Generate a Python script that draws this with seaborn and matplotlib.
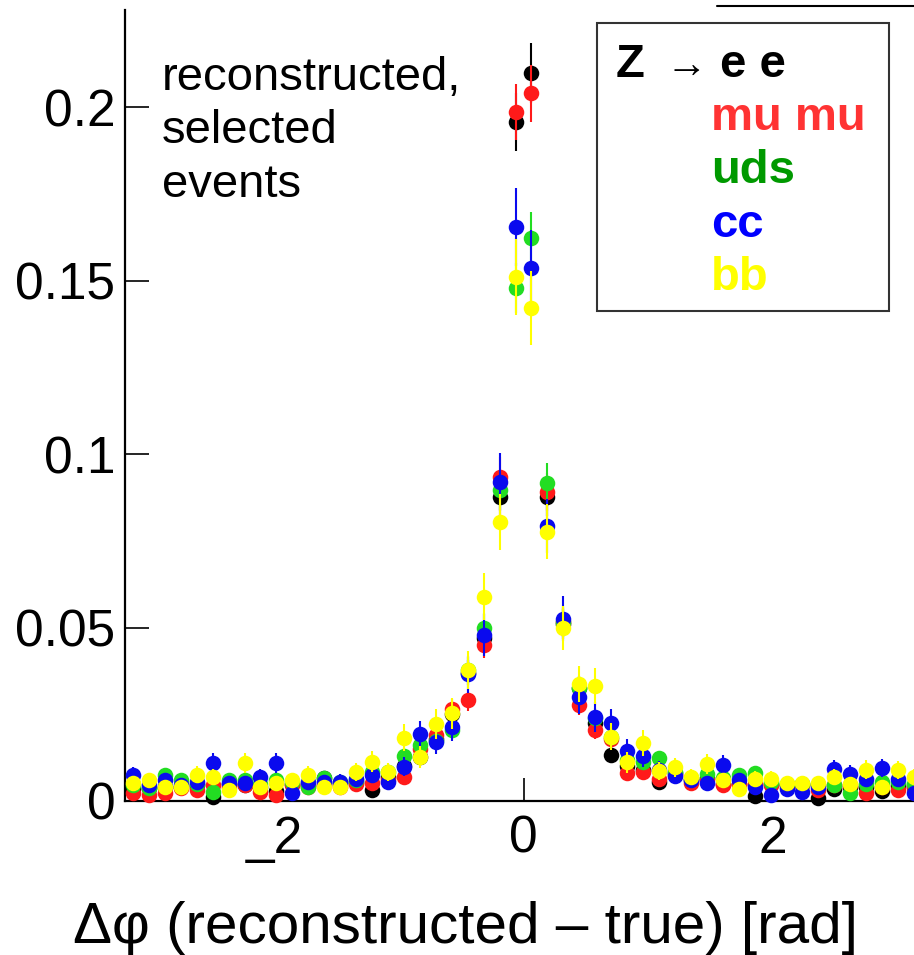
import numpy as np
import pandas as pd
import matplotlib
matplotlib.use("Agg")
import matplotlib.pyplot as plt
from matplotlib.lines import Line2D
from matplotlib.patches import Rectangle
import seaborn as sns

sns.set_style("ticks")
plt.rcParams["font.family"] = ["Liberation Sans", "DejaVu Sans"]
plt.rcParams["text.color"] = "black"
plt.rcParams["axes.labelcolor"] = "black"
plt.rcParams["xtick.color"] = "black"
plt.rcParams["ytick.color"] = "black"

# Binning of the azimuthal-angle residual
n_bins = 50
phi_lo, phi_hi = -3.2, 3.2

# Normalised fraction of selected events per bin, one list per Z decay channel
frac_ee = [0.0035, 0.0037, 0.0040, 0.0040, 0.0045, 0.0012, 0.0050, 0.0045, 0.0040, 0.0030,
           0.0050, 0.0045, 0.0066, 0.0050, 0.0055, 0.0032, 0.0070, 0.0100, 0.0126, 0.0180,
           0.0250, 0.0370, 0.0470, 0.0876, 0.1958, 0.2098, 0.0877, 0.0510, 0.0326, 0.0225,
           0.0133, 0.0100, 0.0090, 0.0056, 0.0080, 0.0060, 0.0065, 0.0050, 0.0050, 0.0014,
           0.0050, 0.0045, 0.0050, 0.0009, 0.0034, 0.0040, 0.0040, 0.0030, 0.0045, 0.0040]
frac_mumu = [0.0023, 0.0017, 0.0023, 0.0038, 0.0032, 0.0046, 0.0040, 0.0046, 0.0027, 0.0017,
             0.0045, 0.0040, 0.0045, 0.0040, 0.0050, 0.0052, 0.0060, 0.0069, 0.0150, 0.0190,
             0.0265, 0.0291, 0.0450, 0.0935, 0.1986, 0.2040, 0.0890, 0.0515, 0.0277, 0.0205,
             0.0180, 0.0080, 0.0085, 0.0062, 0.0075, 0.0051, 0.0060, 0.0046, 0.0045, 0.0050,
             0.0045, 0.0040, 0.0045, 0.0032, 0.0045, 0.0045, 0.0023, 0.0040, 0.0032, 0.0040]
frac_uds = [0.0045, 0.0037, 0.0075, 0.0060, 0.0050, 0.0027, 0.0060, 0.0060, 0.0050, 0.0060,
            0.0055, 0.0041, 0.0066, 0.0056, 0.0060, 0.0085, 0.0084, 0.0130, 0.0160, 0.0172,
            0.0205, 0.0377, 0.0500, 0.0896, 0.1478, 0.1622, 0.0916, 0.0516, 0.0326, 0.0240,
            0.0185, 0.0118, 0.0111, 0.0124, 0.0085, 0.0065, 0.0077, 0.0065, 0.0075, 0.0080,
            0.0055, 0.0048, 0.0050, 0.0045, 0.0046, 0.0023, 0.0050, 0.0054, 0.0055, 0.0050]
frac_cc = [0.0075, 0.0045, 0.0060, 0.0045, 0.0056, 0.0109, 0.0052, 0.0053, 0.0070, 0.0109,
           0.0023, 0.0056, 0.0055, 0.0056, 0.0062, 0.0075, 0.0056, 0.0099, 0.0192, 0.0171,
           0.0214, 0.0365, 0.0478, 0.0920, 0.1654, 0.1536, 0.0793, 0.0526, 0.0300, 0.0242,
           0.0225, 0.0145, 0.0130, 0.0090, 0.0072, 0.0060, 0.0052, 0.0104, 0.0060, 0.0039,
           0.0017, 0.0035, 0.0025, 0.0040, 0.0092, 0.0078, 0.0063, 0.0095, 0.0063, 0.0022]
frac_bb = [0.0051, 0.0060, 0.0041, 0.0041, 0.0075, 0.0070, 0.0032, 0.0109, 0.0041, 0.0051,
           0.0060, 0.0075, 0.0041, 0.0041, 0.0084, 0.0113, 0.0084, 0.0183, 0.0126, 0.0222,
           0.0253, 0.0377, 0.0589, 0.0804, 0.1510, 0.1420, 0.0776, 0.0498, 0.0337, 0.0331,
           0.0185, 0.0111, 0.0167, 0.0087, 0.0097, 0.0070, 0.0106, 0.0060, 0.0035, 0.0063,
           0.0063, 0.0052, 0.0052, 0.0052, 0.0070, 0.0050, 0.0090, 0.0040, 0.0089, 0.0070]

channels = ["e e", "mu mu", "uds", "cc", "bb"]
fractions = [frac_ee, frac_mumu, frac_uds, frac_cc, frac_bb]
# Selected events per sample (sets the statistical error of each normalised bin)
n_events = [2800, 3000, 2800, 1300, 1250]

marker_colors = ["#000000", "#ff1a1a", "#22dd22", "#0a0aee", "#ffff00"]
text_colors = ["#000000", "#ff3333", "#009900", "#0000ff", "#ffff00"]

edges = np.linspace(phi_lo, phi_hi, n_bins + 1)
centers = 0.5 * (edges[:-1] + edges[1:])

rows = []
for name, vals, n in zip(channels, fractions, n_events):
    vals = np.asarray(vals)
    rows.append(pd.DataFrame({
        "dphi": centers,
        "frac": vals,
        "err": np.sqrt(vals / n),
        "channel": name,
    }))
df = pd.concat(rows, ignore_index=True)

W, H = 914, 955
fig = plt.figure(figsize=(W / 100, H / 100), dpi=100)
ax_left, ax_right, ax_top, ax_bottom = 125, 922, 10, 801
ax = fig.add_axes([ax_left / W, 1 - ax_bottom / H,
                   (ax_right - ax_left) / W, (ax_bottom - ax_top) / H])

for i, (name, col) in enumerate(zip(channels, marker_colors)):
    sub = df[df["channel"] == name]
    ax.errorbar(sub["dphi"], sub["frac"], yerr=sub["err"], fmt="none",
                ecolor=col, elinewidth=1.5, capsize=0, zorder=2 + 2 * i, clip_on=False)
    sns.scatterplot(data=sub, x="dphi", y="frac", color=col, s=125, linewidth=0,
                    ax=ax, zorder=3 + 2 * i, clip_on=False, legend=False)

ax.set_xlim(phi_lo, phi_hi)
ax.set_ylim(0, 0.228)

sns.despine(ax=ax, top=True, right=True)
for side in ("left", "bottom"):
    ax.spines[side].set_linewidth(1.6)
    ax.spines[side].set_color("black")

ax.set_yticks([0, 0.05, 0.1, 0.15, 0.2])
ax.set_yticklabels(["0", "0.05", "0.1", "0.15", "0.2"])
ax.set_xticks([-2, 0, 2])
ax.set_xticklabels(["_2", "0", "2"])
ax.tick_params(axis="y", direction="in", length=17, width=1.2, pad=7, labelsize=37)
ax.tick_params(axis="x", direction="in", length=16.5, width=1.2, pad=10, labelsize=37)

ax.set_ylabel("")
ax.set_xlabel("\u0394\u03c6 (reconstructed \u2013 true) [rad]", fontsize=42)
ax.xaxis.set_label_coords((465 - ax_left) / (ax_right - ax_left),
                          -(943 - ax_bottom) / (ax_bottom - ax_top))
ax.xaxis.label.set_va("baseline")


def fx(px):
    return px / W


def fy(py):
    return 1 - py / H


# Annotation
for line, base in zip(["reconstructed,", "selected", "events"], [90, 143, 197]):
    fig.text(fx(162), fy(base), line, fontsize=34, va="baseline", ha="left")

# Channel box
fig.add_artist(Rectangle((fx(597), fy(311)), (889 - 597) / W, (311 - 23) / H,
                         transform=fig.transFigure, facecolor="white",
                         edgecolor="#333333", linewidth=1.5, zorder=20))
fig.text(fx(616), fy(77), "Z", fontsize=34, fontweight="bold", va="baseline", zorder=21)
fig.text(fx(666), fy(77), "\u2192", fontsize=30, va="baseline", zorder=21)
fig.text(fx(720), fy(77), "e e", fontsize=34, fontweight="bold", va="baseline", zorder=21)
for name, col, base in zip(channels[1:], text_colors[1:], [130, 183, 237, 290]):
    fig.text(fx(711), fy(base), name, fontsize=34, fontweight="bold", color=col,
             va="baseline", zorder=21)

# Edge of the neighbouring box above the frame
fig.add_artist(Line2D([fx(717), 1.0], [fy(6), fy(6)], color="black", linewidth=1.5))

fig.savefig("out.png", dpi=100)
